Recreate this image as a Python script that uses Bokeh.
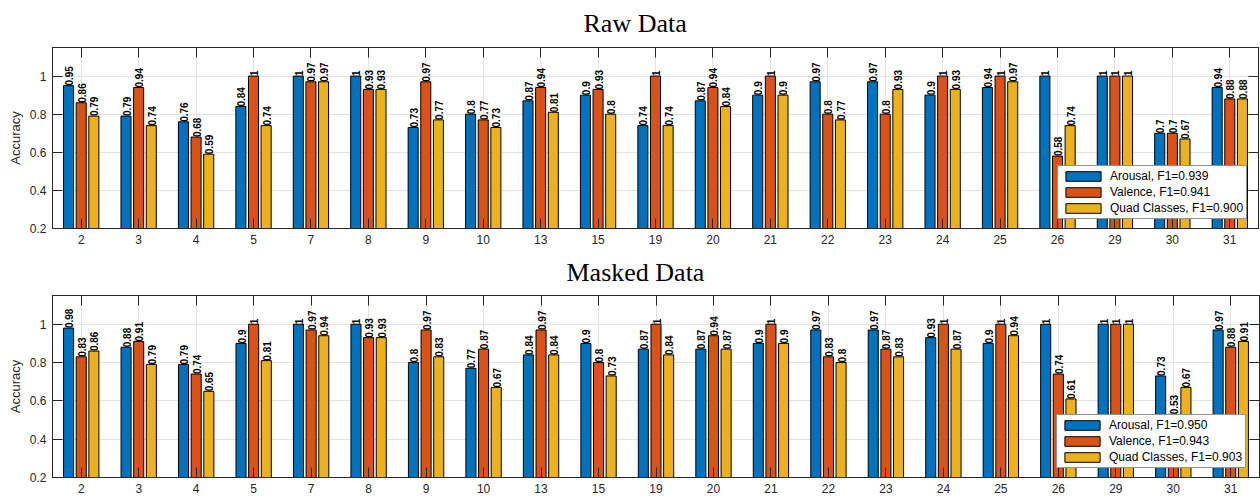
import numpy as np
from bokeh.plotting import figure
from bokeh.models import (Range1d, LinearAxis, FixedTicker, Legend, LegendItem,
                          ColumnDataSource, CustomJSTickFormatter)
from bokeh.transform import dodge
from bokeh.layouts import column
from bokeh.embed import file_html
from bokeh.resources import INLINE
from bokeh.core.properties import value

subjects = ["2", "3", "4", "5", "7", "8", "9", "10", "13", "15", "19", "20", "21",
            "22", "23", "24", "25", "26", "29", "30", "31"]

raw_arousal = [0.95, 0.79, 0.76, 0.84, 1, 1, 0.73, 0.8, 0.87, 0.9, 0.74, 0.87, 0.9,
               0.97, 0.97, 0.9, 0.94, 1, 1, 0.7, 0.94]
raw_valence = [0.86, 0.94, 0.68, 1, 0.97, 0.93, 0.97, 0.77, 0.94, 0.93, 1, 0.94, 1,
               0.8, 0.8, 1, 1, 0.58, 1, 0.7, 0.88]
raw_quad = [0.79, 0.74, 0.59, 0.74, 0.97, 0.93, 0.77, 0.73, 0.81, 0.8, 0.74, 0.84, 0.9,
            0.77, 0.93, 0.93, 0.97, 0.74, 1, 0.67, 0.88]
raw_f1 = ["0.939", "0.941", "0.900"]

masked_arousal = [0.98, 0.88, 0.79, 0.9, 1, 1, 0.8, 0.77, 0.84, 0.9, 0.87, 0.87, 0.9,
                  0.97, 0.97, 0.93, 0.9, 1, 1, 0.73, 0.97]
masked_valence = [0.83, 0.91, 0.74, 1, 0.97, 0.93, 0.97, 0.87, 0.97, 0.8, 1, 0.94, 1,
                  0.83, 0.87, 1, 1, 0.74, 1, 0.53, 0.88]
masked_quad = [0.86, 0.79, 0.65, 0.81, 0.94, 0.93, 0.83, 0.67, 0.84, 0.73, 0.84, 0.87, 0.9,
               0.8, 0.83, 0.87, 0.94, 0.61, 1, 0.67, 0.91]
masked_f1 = ["0.950", "0.943", "0.903"]

series_names = ["Arousal", "Valence", "Quad Classes"]
colors = ["#0072BD", "#D95319", "#EDB120"]

SANS = "Liberation Sans"
SERIF = "Liberation Serif"
AX = "#262626"


def fmt(v):
    return f"{v:g}"


def make_panel(title, arousal, valence, quad, f1, frame_w, frame_h, border_left,
               border_right, border_top, border_bottom, title_offset, title_standoff,
               legend_loc):
    n = len(subjects)
    xs = list(range(1, n + 1))
    src = ColumnDataSource(dict(
        x=xs, a=arousal, v=valence, q=quad,
        a_l=[fmt(t) for t in arousal], v_l=[fmt(t) for t in valence],
        q_l=[fmt(t) for t in quad]))

    p = figure(frame_width=frame_w, frame_height=frame_h, output_backend="svg",
               toolbar_location=None,
               x_range=Range1d(0.5, n + 0.5), y_range=Range1d(0.2, 1.15),
               min_border_left=border_left, min_border_right=border_right,
               min_border_top=border_top, min_border_bottom=border_bottom,
               background_fill_color="white", border_fill_color="white")
    p.outline_line_color = AX
    p.outline_line_width = 1

    p.title.text = title
    p.title.text_font = SERIF
    p.title.text_font_size = "26px"
    p.title.text_font_style = "normal"
    p.title.text_color = "black"
    p.title.align = "left"
    p.title.vertical_align = "top"
    p.title.offset = title_offset
    p.title.standoff = title_standoff

    xt = FixedTicker(ticks=xs)
    yt = FixedTicker(ticks=[0.2, 0.4, 0.6, 0.8, 1.0])

    offs = [-0.22, 0.0, 0.22]
    cols = ["a", "v", "q"]
    rends = []
    for off, c, col in zip(offs, cols, colors):
        r = p.vbar(x=dodge("x", off), top=c, bottom=0.2, width=0.175, source=src,
                   fill_color=col, line_color="black", line_width=1)
        rends.append(r)
        p.text(x=dodge("x", off), y=c, text=c + "_l", source=src, angle=np.pi / 2,
               text_align="left", text_baseline="middle", x_offset=0.5,
               text_font=value(SANS), text_font_size="10px", text_font_style="bold",
               text_color="black")

    xfmt = CustomJSTickFormatter(args=dict(labels=subjects),
                                 code="return labels[Math.round(tick) - 1];")
    yfmt = CustomJSTickFormatter(code="return String(Math.round(tick * 10) / 10);")

    xa = p.xaxis[0]
    xa.ticker = xt
    xa.formatter = xfmt
    ya = p.yaxis[0]
    ya.ticker = yt
    ya.formatter = yfmt
    ya.axis_label = "Accuracy"
    ya.axis_label_text_font = SANS
    ya.axis_label_text_font_size = "13px"
    ya.axis_label_text_font_style = "normal"
    ya.axis_label_text_color = AX
    ya.axis_label_standoff = 4

    for ax in (xa, ya):
        ax.major_tick_in = 10
        ax.major_tick_out = 0
        ax.minor_tick_line_color = None
        ax.axis_line_color = AX
        ax.major_tick_line_color = AX
        ax.major_label_text_font = SANS
        ax.major_label_text_font_size = "12px"
        ax.major_label_text_color = AX
    xa.major_label_standoff = 6
    ya.major_label_standoff = 6

    blank = CustomJSTickFormatter(code="return '';")
    top = LinearAxis(ticker=xt, formatter=blank, major_tick_in=10, major_tick_out=0,
                     minor_tick_line_color=None, major_label_text_font_size="1px",
                     major_label_text_color=None,
                     major_label_standoff=0, axis_line_color=AX,
                     major_tick_line_color=AX)
    right = LinearAxis(ticker=yt, formatter=blank, major_tick_in=10, major_tick_out=0,
                       minor_tick_line_color=None, major_label_text_font_size="1px",
                       major_label_text_color=None,
                       major_label_standoff=0, axis_line_color=AX,
                       major_tick_line_color=AX)
    p.add_layout(top, "above")
    p.add_layout(right, "right")

    p.xgrid.ticker = xt
    p.ygrid.ticker = yt
    for g in (p.xgrid, p.ygrid):
        g.grid_line_color = "#e3e3e3"
        g.grid_line_width = 1

    items = [LegendItem(label=f"{nm}, F1={f}", renderers=[r])
             for nm, f, r in zip(series_names, f1, rends)]
    leg = Legend(items=items, location=legend_loc, margin=0,
                 border_line_color=AX, border_line_width=1,
                 background_fill_color="white", background_fill_alpha=1,
                 label_text_font=SANS, label_text_font_size="12px",
                 label_text_color="black",
                 glyph_width=44, glyph_height=12, label_height=14,
                 label_standoff=5, spacing=2, padding=3)
    p.add_layout(leg)
    return p


p1 = make_panel("Raw Data", raw_arousal, raw_valence, raw_quad, raw_f1,
                frame_w=1206, frame_h=181, border_left=52, border_right=2,
                border_top=46, border_bottom=22, title_offset=531, title_standoff=16,
                legend_loc=(1005, 9))
p2 = make_panel("Masked Data", masked_arousal, masked_valence, masked_quad, masked_f1,
                frame_w=1207, frame_h=182, border_left=49, border_right=4,
                border_top=45, border_bottom=22, title_offset=514, title_standoff=14,
                legend_loc=(1004, 9))

layout = column(p1, p2, spacing=0)
open("out.html", "w").write(file_html(layout, INLINE))
